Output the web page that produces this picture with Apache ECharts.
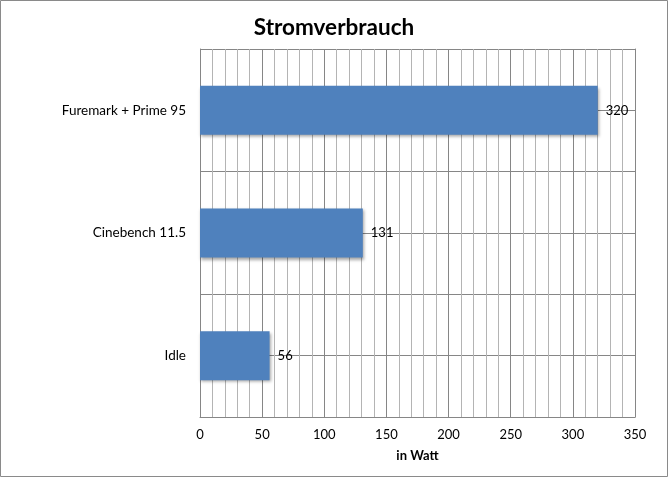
<!DOCTYPE html>
<html><head><meta charset="utf-8">
<script src="https://cdn.jsdelivr.net/npm/echarts@6/dist/echarts.min.js"></script>
<style>html,body{margin:0;padding:0;background:#fff}#c{width:668px;height:477px}</style>
</head><body><div id="c"></div>
<script>
const categories = ['Idle', 'Cinebench 11.5', 'Furemark + Prime 95'];
const values = [56, 131, 320];
const titleText = 'Stromverbrauch';
const xAxisName = 'in Watt';
const font = 'Lato, "Open Sans", sans-serif';
const chart = echarts.init(document.getElementById('c'), null, {renderer: 'canvas'});
chart.setOption({
  animation: false,
  graphic: [{type: 'rect', shape: {x: 0.5, y: 0.5, width: 667, height: 476}, style: {fill: 'none', stroke: '#8a8a8a', lineWidth: 1}, silent: true}],
  title: {text: titleText, left: 'center', top: 11, textStyle: {fontFamily: font, fontSize: 22.5, fontWeight: 'bold', color: '#000'}},
  grid: {left: 200, right: 33, top: 49, bottom: 60},
  xAxis: {
    type: 'value', min: 0, max: 350, interval: 50,
    name: xAxisName, nameLocation: 'middle', nameGap: 32,
    nameTextStyle: {fontFamily: font, fontSize: 13, fontWeight: 'bold', color: '#000'},
    axisLine: {show: true, lineStyle: {color: '#868686'}},
    axisTick: {show: false},
    axisLabel: {fontFamily: font, fontSize: 13, color: '#000', margin: 11},
    splitLine: {show: true, lineStyle: {color: '#868686'}},
    minorTick: {show: false, splitNumber: 5},
    minorSplitLine: {show: true, lineStyle: {color: '#b4b4b4'}}
  },
  yAxis: [{
    type: 'category', data: categories,
    axisLine: {show: true, lineStyle: {color: '#868686'}},
    axisTick: {show: false},
    axisLabel: {fontFamily: font, fontSize: 13.5, color: '#000', margin: 14},
    splitLine: {show: true, lineStyle: {color: '#868686'}}
  }, {
    type: 'value', min: 0, max: 6, interval: 1, position: 'right',
    axisLine: {show: true, lineStyle: {color: '#868686'}},
    axisTick: {show: false}, axisLabel: {show: false},
    splitLine: {show: true, lineStyle: {color: '#868686'}}
  }],
  series: [{
    type: 'bar', data: values, yAxisIndex: 0, barWidth: '40%',
    itemStyle: {color: '#4F81BD', shadowColor: 'rgba(0,0,0,0.35)', shadowBlur: 3, shadowOffsetY: 2, shadowOffsetX: 1},
    label: {show: true, position: 'right', distance: 8, fontFamily: font, fontSize: 13, color: '#000'}
  }]
});
</script></body></html>
